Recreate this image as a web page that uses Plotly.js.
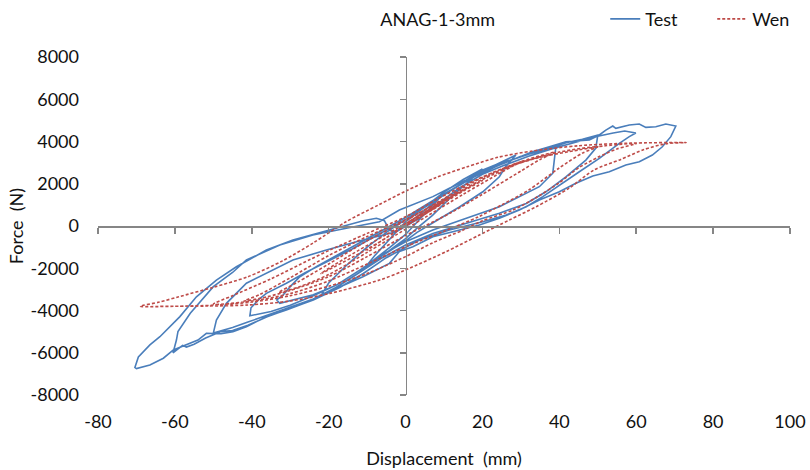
<!DOCTYPE html>
<html>
<head>
<meta charset="utf-8">
<script src="https://cdn.plot.ly/plotly-3.0.1.min.js"></script>
<style>html,body{margin:0;padding:0;background:#fff;}#chart{width:810px;height:470px;}</style>
</head>
<body>
<div id="chart"></div>
<script>
// ---- data ----
const chartTitle = 'ANAG-1-3mm';
const xTitle = 'Displacement  (mm)';
const yTitle = 'Force  (N)';
const xTicks = [-80, -60, -40, -20, 0, 20, 40, 60, 80, 100];
const yTicks = [-8000, -6000, -4000, -2000, 0, 2000, 4000, 6000, 8000];
const seriesNames = ['Test', 'Wen'];

// Test (measured) hysteresis, one continuous path, branch by branch
const testX = [
  0, 4, 8, 10,
  8, 5, 2, 0, -4, -8, -10,
  -8, -5, -2, 0, 5, 10, 15, 20,
  17, 12, 7, 3, 0, -6, -12, -17, -22,
  -20, -15, -10, -5, 0, 6, 12, 18, 24, 28.7,
  26, 24.4, 20.1, 14, 8, 3, 0, -6, -12, -18, -24, -29, -32.7,
  -33.5, -32, -30, -27.5, -23, -18, -12, -6, 0, 8, 16, 24, 32, 36, 39.1,
  38.8, 38.3, 34.8, 29.6, 24.4, 15.8, 7.1, 0, -6, -12, -18, -24, -30, -35, -38, -40.5,
  -40.2, -38, -36.2, -33, -31, -26, -20, -14, -8, -3, 0, 6, 12, 18, 24, 30, 36, 42, 46, 50,
  49.8, 49.5, 46.9, 41.7, 36.5, 31.4, 24.4, 15.8, 7.1, 0, -6, -12, -18, -24, -30, -36, -41, -45, -50,
  -49.2, -46.6, -41.4, -36.2, -29.3, -20.6, -11.1, -2.4, 3, 8, 14, 20, 26, 32, 38, 44, 50, 54, 57, 59.9,
  58.2, 55.6, 50.4, 45.2, 40.9, 35.7, 31.4, 26.2, 20.1, 11.4, 3.6, 0, -5, -11, -17, -24, -31, -36, -41, -45, -48, -52, -55, -57, -58, -60.5,
  -60.4, -59.6, -59.2, -56, -50, -45, -41.4, -32.7, -24.1, -15.4, -6.8, -1.6, 2.8, 7.1, 11.4, 15.8, 20.1, 24.4, 28.7, 33, 37.4, 41.7, 47.8, 50.4, 52.1, 53.9, 54.7, 58.2, 60.8, 62.5, 65.1, 67.7, 70.3,
  69, 66.8, 64.2, 60.8, 57.3, 53, 48.7, 44.3, 40, 34.8, 29.6, 24.4, 19.2, 12.3, 7.1, 1.9, -1.6, -4.2, -11.1, -18.9, -24.1, -31, -36.2, -41.4, -44.9, -48, -51.8, -54, -57, -60.4, -63, -66.5, -70,
  -70.4, -69.5, -66.5, -63.9, -58.7, -54.4, -49.2, -44, -36.2, -29.3, -22.3, -15.4, -11, -7.6, -5.5, -4.2, -2.5
];
const testY = [
  0, 600, 1200, 1550,
  1150, 600, 0, -400, -1000, -1550, -1850,
  -1400, -800, -200, 200, 900, 1600, 2200, 2700,
  2200, 1400, 500, -100, -600, -1400, -2200, -2800, -3300,
  -2700, -1800, -1000, -300, 300, 1000, 1700, 2400, 2950, 3360,
  2800, 2330, 1620, 900, 250, -300, -700, -1400, -2100, -2800, -3250, -3500, -3660,
  -3500, -3300, -2870, -2400, -1900, -1400, -800, -200, 400, 1300, 2150, 2900, 3400, 3600, 3750,
  3300, 2500, 1860, 1390, 915, 364, -190, -750, -1350, -2100, -2800, -3300, -3750, -4050, -4150, -4250,
  -3870, -3450, -3190, -2900, -2710, -2200, -1650, -1100, -500, 0, 300, 1000, 1700, 2350, 2850, 3300, 3600, 3950, 4100, 4300,
  4000, 3690, 3120, 2330, 1620, 1070, 600, 126, -350, -900, -1500, -2200, -2900, -3450, -3850, -4250, -4550, -4800, -5070,
  -4450, -3660, -2710, -2240, -1610, -1140, -660, -270, 300, 1000, 1800, 2450, 2900, 3300, 3650, 3950, 4250, 4400, 4500, 4400,
  4230, 3910, 3200, 2570, 2020, 1390, 915, 520, 205, -190, -660, -1000, -1500, -2250, -2900, -3500, -3950, -4300, -4700, -4950, -5000, -5300, -5600, -5730, -5650, -6000,
  -5950, -5400, -5000, -4130, -2870, -2200, -1610, -900, -426, -110, 205, 760, 1070, 1390, 1785, 2180, 2650, 2970, 3200, 3520, 3750, 3990, 4070, 4310, 4540, 4730, 4620, 4780, 4830, 4670, 4700, 4830, 4730,
  4230, 3750, 3360, 3040, 2890, 2570, 2370, 2020, 1620, 1230, 760, 364, 47, -270, -506, -980, -1210, -1770, -2400, -3030, -3500, -3980, -4290, -4770, -5000, -5100, -5080, -5400, -5630, -5870, -6260, -6580, -6750,
  -6700, -6200, -5630, -5240, -4290, -3350, -2560, -1930, -1140, -660, -317, 47, 250, 364, 250, -200, -280
];

// Wen model, one continuous path, branch by branch
const wenX = [
  0, 5, 10,
  5, 0, -5, -10,
  -5, 0, 10, 20,
  15, 10, 0, -10, -22,
  -15, -5, 5, 15, 23, 30,
  25, 15, 5, 0, -10, -20, -28, -33,
  -28, -20, -10, 0, 10, 20, 30, 39,
  35, 30, 20, 12, 5, 0, -10, -20, -30, -36, -42,
  -38, -30, -20, -10, 0, 10, 20, 30, 40, 50,
  46, 40, 32, 25, 19, 10, 0, -10, -20, -30, -40, -50,
  -45, -35, -25, -19.7, -10, 0, 8, 15, 25, 35, 45, 52, 60,
  55, 50, 45, 40, 34, 28, 20, 15, 7, 0, -10, -20, -30, -40, -50, -60, -69,
  -64, -59, -50, -41, -32, -24, -15.5, -7, 0, 8, 16, 24, 33, 45, 58, 73,
  68, 62, 56, 49, 42.6, 34, 27, 19.2, 10.6, 0, -6.8, -19.7, -30, -41, -52, -64
];
const wenY = [
  0, 550, 1150,
  600, 50, -550, -1150,
  -550, 100, 1200, 2150,
  1650, 1100, 0, -1100, -2250,
  -1450, -400, 650, 1700, 2500, 3050,
  2550, 1500, 400, -150, -1250, -2300, -2900, -3150,
  -2650, -1800, -700, 250, 1300, 2300, 3050, 3500,
  3150, 2600, 1500, 650, 0, -450, -1450, -2400, -3050, -3350, -3550,
  -3250, -2450, -1400, -500, 300, 1250, 2200, 3000, 3500, 3750,
  3450, 2750, 1700, 1000, 440, -250, -980, -1800, -2600, -3200, -3550, -3700,
  -3300, -2500, -1600, -1140, -350, 440, 1250, 1900, 2700, 3250, 3600, 3800, 3900,
  3650, 3250, 2750, 2050, 1350, 760, 250, -190, -800, -1450, -2250, -2850, -3300, -3600, -3750, -3800, -3800,
  -3600, -3350, -2900, -2400, -1650, -800, 200, 1000, 1650, 2300, 2800, 3250, 3550, 3800, 3920, 3950,
  3900, 3620, 3150, 2650, 1800, 915, 284, -426, -1210, -2080, -2560, -3190, -3550, -3740, -3790, -3800
];

// ---- drawing ----
const FONT = 'Lato, "Open Sans", "Liberation Sans", sans-serif';
const FS = 18;
const TXT = '#111111';
const AX = '#868686';
const xRange = [xTicks[0], xTicks[xTicks.length - 1]];
const yRange = [yTicks[0], yTicks[yTicks.length - 1]];

const traces = [
  {x: testX, y: testY, type: 'scatter', mode: 'lines', name: seriesNames[0],
   line: {color: '#4A7EBB', width: 1.6}},
  {x: wenX, y: wenY, type: 'scatter', mode: 'lines', name: seriesNames[1],
   line: {color: '#BE4B48', width: 1.6, dash: '3px,2px', shape: 'spline', smoothing: 0.8}},
  {x: [], y: [], xaxis: 'x2', yaxis: 'y2', type: 'scatter', mode: 'lines', showlegend: false, hoverinfo: 'skip'}
];

const zeroFracY = (0 - yRange[0]) / (yRange[1] - yRange[0]);
const zeroFracX = (0 - xRange[0]) / (xRange[1] - xRange[0]);

const layout = {
  width: 810, height: 470,
  margin: {l: 98, r: 20, t: 57, b: 75, autoexpand: false},
  paper_bgcolor: '#ffffff', plot_bgcolor: '#ffffff',
  font: {family: FONT, size: FS, color: TXT},
  showlegend: true,
  title: {text: chartTitle, font: {family: FONT, size: FS, color: TXT},
          x: 0.491, xref: 'paper', xanchor: 'center', y: 0.958, yref: 'container', yanchor: 'middle'},
  legend: {orientation: 'h', x: 0.733, xanchor: 'left', y: 1.112, yanchor: 'middle',
           font: {family: FONT, size: FS, color: TXT}, bgcolor: 'rgba(0,0,0,0)', itemwidth: 30,
           entrywidth: 62, entrywidthmode: 'pixels', tracegroupgap: 0},
  xaxis: {range: xRange, tickvals: xTicks, ticktext: xTicks.map(String), showgrid: false, zeroline: false,
          showline: false, ticks: '', ticklabelstandoff: 14, tickfont: {family: FONT, size: FS, color: TXT},
          title: {text: xTitle, font: {family: FONT, size: FS, color: TXT}, standoff: 21}, fixedrange: true},
  yaxis: {range: yRange, tickvals: yTicks, ticktext: yTicks.map(String), showgrid: false, zeroline: false,
          showline: false, ticks: '', ticklabelstandoff: 18, tickfont: {family: FONT, size: FS, color: TXT},
          title: {text: yTitle, font: {family: FONT, size: FS, color: TXT}, standoff: 2}, fixedrange: true},
  xaxis2: {overlaying: 'x', anchor: 'free', position: zeroFracY, range: xRange, tickvals: xTicks,
           showticklabels: false, showgrid: false, zeroline: false, showline: true, linecolor: AX, linewidth: 1.5,
           ticks: 'outside', ticklen: 6, tickwidth: 1.5, tickcolor: AX, fixedrange: true},
  yaxis2: {overlaying: 'y', anchor: 'free', position: zeroFracX, range: yRange, tickvals: yTicks,
           showticklabels: false, showgrid: false, zeroline: false, showline: true, linecolor: AX, linewidth: 1.5,
           ticks: 'outside', ticklen: 6, tickwidth: 1.5, tickcolor: AX, side: 'left', fixedrange: true}
};

Plotly.newPlot('chart', traces, layout, {displayModeBar: false, staticPlot: true});
</script>
</body>
</html>
